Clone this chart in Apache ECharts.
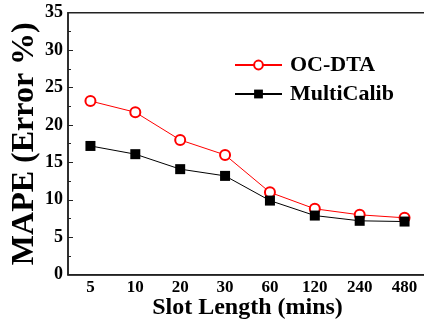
<!DOCTYPE html>
<html>
<head>
<meta charset="utf-8">
<script src="https://cdn.jsdelivr.net/npm/echarts@6/dist/echarts.min.js"></script>
<style>
  html, body { margin: 0; padding: 0; background: #fff; }
  #chart { width: 424px; height: 325px; }
</style>
</head>
<body>
<div id="chart"></div>
<script>
const slotLengths = ['5', '10', '20', '30', '60', '120', '240', '480'];
const ocDta = [23.2, 21.7, 18.0, 16.0, 11.0, 8.8, 8.0, 7.6];
const multiCalib = [17.2, 16.1, 14.1, 13.2, 9.9, 7.9, 7.2, 7.1];

const FONT = 'Liberation Serif';

const chart = echarts.init(document.getElementById('chart'), null, { renderer: 'canvas' });

chart.setOption({
  animation: false,
  backgroundColor: '#fff',
  grid: {
    left: 68, right: -3, top: 12.7, bottom: 50.3,
    outerBoundsMode: 'none',
    containLabel: false,
    show: true, borderColor: '#222', borderWidth: 1.5,
  },
  legend: {
    orient: 'vertical',
    left: 234,
    top: 54,
    padding: 0,
    itemWidth: 47,
    itemHeight: 11,
    itemGap: 7,
    textStyle: {
      fontFamily: FONT, fontWeight: 'bold', fontSize: 22, color: '#000',
      padding: [0, 0, 0, 3],
    },
    data: ['OC-DTA', 'MultiCalib'],
  },
  xAxis: {
    type: 'category',
    data: slotLengths,
    boundaryGap: true,
    name: 'Slot Length (mins)',
    nameLocation: 'middle',
    nameGap: 21,
    nameMoveOverlap: false,
    nameTextStyle: { fontFamily: FONT, fontWeight: 'bold', fontSize: 24, color: '#000' },
    axisLine: { lineStyle: { color: '#222', width: 1.5 } },
    axisTick: { alignWithLabel: true, inside: true, length: 4, lineStyle: { color: '#222' } },
    axisLabel: { fontFamily: FONT, fontWeight: 'bold', fontSize: 17, color: '#000', margin: 4 },
    splitLine: { show: false },
  },
  yAxis: {
    type: 'value',
    min: 0,
    max: 35,
    interval: 5,
    name: 'MAPE (Error %)',
    nameLocation: 'middle',
    nameGap: 27,
    nameMoveOverlap: false,
    nameTextStyle: { fontFamily: FONT, fontWeight: 'bold', fontSize: 32, color: '#000' },
    axisLine: { show: true, lineStyle: { color: '#222', width: 1.5 } },
    axisTick: { show: true, inside: true, length: 5, lineStyle: { color: '#222' } },
    minorTick: { show: true, splitNumber: 2, length: 3, lineStyle: { color: '#222' } },
    axisLabel: { fontFamily: FONT, fontWeight: 'bold', fontSize: 18, color: '#000', margin: 5 },
    splitLine: { show: false },
  },
  series: [
    {
      name: 'OC-DTA',
      type: 'line',
      data: ocDta,
      symbol: 'emptyCircle',
      symbolSize: 10,
      lineStyle: { color: '#ff0000', width: 1 },
      itemStyle: { color: '#ff0000', borderColor: '#ff0000', borderWidth: 1 },
    },
    {
      name: 'MultiCalib',
      type: 'line',
      data: multiCalib,
      symbol: 'rect',
      symbolSize: 10,
      lineStyle: { color: '#000', width: 1 },
      itemStyle: { color: '#000' },
    },
  ],
});
</script>
</body>
</html>
